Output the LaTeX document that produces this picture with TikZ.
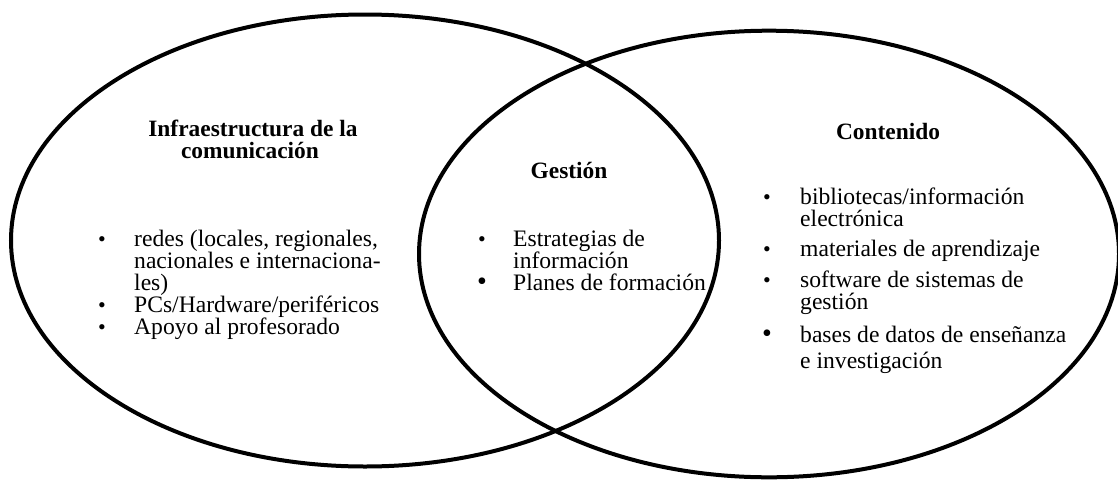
\documentclass[tikz,border=0pt]{standalone}
\usepackage{fontspec}
\setmainfont{Liberation Serif}
\begin{document}
\begin{tikzpicture}[x=1pt,y=-1pt,
  ring/.style={draw=black, line width=4pt},
  txt/.style={anchor=base west, inner sep=0pt, font=\fontsize{23.6}{23.6}\selectfont},
  head/.style={anchor=base, inner sep=0pt, font=\fontsize{23.4}{23.4}\selectfont\bfseries},
  bul/.style={anchor=base, inner sep=0pt, font=\fontsize{22}{22}\selectfont},
  bigbul/.style={anchor=base, inner sep=0pt, font=\fontsize{28}{28}\selectfont}]
\useasboundingbox (0,0) rectangle (1118,479);
\fill[white] (0,0) rectangle (1118,479);
\draw[ring] (365,240.5) ellipse [x radius=354pt, y radius=226pt];
\draw[ring] (769,254) ellipse [x radius=350pt, y radius=223.3pt];
% left
\node[head] (h1) at (253,136) {Infraestructura de la};
\node[head] (h2) at (250,158) {comunicación};
\node[bul] (b1) at (102,246) {•};
\node[txt] (l1) at (134,246) {redes (locales, regionales,};
\node[txt] (l2) at (134,268) {nacionales e internaciona-};
\node[txt] (l3) at (134,290) {les)};
\node[bul] (b2) at (102,312) {•};
\node[txt] (l4) at (134,312) {PCs/Hardware/periféricos};
\node[bul] (b3) at (102,334) {•};
\node[txt] (l5) at (134,334) {Apoyo al profesorado};
% middle
\node[head] (h3) at (569,178) {Gestión};
\node[bul] (b4) at (482,246) {•};
\node[txt] (m1) at (513,246) {Estrategias de};
\node[txt] (m2) at (513,268) {información};
\node[bigbul] (b5) at (482,290) {•};
\node[txt] (m3) at (513,290) {Planes de formación};
% right
\node[head] (h4) at (888,139) {Contenido};
\node[bul] (b6) at (767,204) {•};
\node[txt] (r1) at (800,204) {bibliotecas/información};
\node[txt] (r2) at (800,226) {electrónica};
\node[bul] (b7) at (767,256) {•};
\node[txt] (r3) at (800,256) {materiales de aprendizaje};
\node[bul] (b8) at (767,287) {•};
\node[txt] (r4) at (800,287) {software de sistemas de};
\node[txt] (r5) at (800,309) {gestión};
\node[bigbul] (b9) at (767,342) {•};
\node[txt] (r6) at (800,342) {bases de datos de enseñanza};
\node[txt] (r7) at (800,368) {e investigación};
\end{tikzpicture}
\end{document}
